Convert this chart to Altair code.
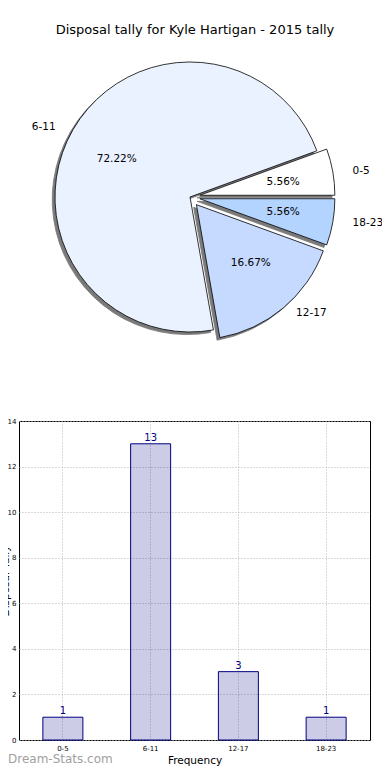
import altair as alt
import pandas as pd

# ---------------- data ----------------
categories = ["0-5", "6-11", "12-17", "18-23"]
counts = [1, 13, 3, 1]
y_ticks = [0, 2, 4, 6, 8, 10, 12, 14]
title_text = ["Disposal tally for Kyle Hartigan - 2015 tally"]
x_title = "Frequency"
y_title = "Disposal Tally"
watermark_text = ["Dream-Stats.com"]

# ---------------- styles / layout ----------------
pie_colors = ["#ffffff", "#ebf2ff", "#c6d9ff", "#b3d4ff"]
explode_px = [10, 0, 10, 10]
FONT = "DejaVu Sans"
NAVY = "#000080"
W, H = 351, 319          # bar plot area
CX, CY = 171, -224       # pie centre relative to the bar plot's top-left
R = 135                  # arc radius
RX, RY = 141, 128        # label placement ellipse
SHX, SHY = -2.8, 2.6     # shadow offset

pie_df = pd.DataFrame({"cat": categories, "count": counts,
                       "idx": list(range(len(categories))), "ex": explode_px})
bar_df = pd.DataFrame({"cat": categories, "count": counts})

pie_base = (
    alt.Chart(pie_df)
    .transform_joinaggregate(total="sum(count)")
    .transform_window(cum="sum(count)", sort=[alt.SortField("idx")], frame=[None, 0])
    .transform_calculate(
        a1="PI/2 - 2*PI*datum.cum/datum.total",
        a2="PI/2 - 2*PI*(datum.cum - datum.count)/datum.total",
    )
    .transform_calculate(am="(datum.a1 + datum.a2)/2")
    .transform_calculate(
        cx=f"{CX} + datum.ex*sin(datum.am)",
        cy=f"({CY}) - datum.ex*cos(datum.am)",
    )
    .transform_calculate(
        sx=f"datum.cx + ({SHX})",
        sy=f"datum.cy + ({SHY})",
        lx=f"datum.cx + 1.1*{RX}*sin(datum.am)",
        ly=f"datum.cy - 1.1*{RY}*cos(datum.am)",
        px=f"datum.cx + 0.6*{RX}*sin(datum.am)",
        py=f"datum.cy - 0.6*{RY}*cos(datum.am)",
        pct="format(100*datum.count/datum.total, '.2f') + '%'",
        rightside="sin(datum.am) > 0 ? 1 : 0",
    )
)

shadow = pie_base.mark_arc(radius=R, fill="#7a7a7a", stroke="#7a7a7a", strokeWidth=0.8).encode(
    theta=alt.Theta("a1:Q", scale=None),
    theta2="a2:Q",
    x=alt.X("sx:Q", scale=None),
    y=alt.Y("sy:Q", scale=None),
)
slices = pie_base.mark_arc(radius=R, stroke="black", strokeWidth=0.8).encode(
    theta=alt.Theta("a1:Q", scale=None),
    theta2="a2:Q",
    x=alt.X("cx:Q", scale=None),
    y=alt.Y("cy:Q", scale=None),
    color=alt.Color("cat:N", scale=alt.Scale(domain=categories, range=pie_colors), legend=None),
)
pct_text = pie_base.mark_text(font=FONT, fontSize=10.5, color="black", align="center", baseline="middle").encode(
    x=alt.X("px:Q", scale=None), y=alt.Y("py:Q", scale=None), text="pct:N")
lab_right = pie_base.transform_filter("datum.rightside == 1").mark_text(
    font=FONT, fontSize=10.5, color="black", align="left", baseline="middle").encode(
    x=alt.X("lx:Q", scale=None), y=alt.Y("ly:Q", scale=None), text="cat:N")
lab_left = pie_base.transform_filter("datum.rightside == 0").mark_text(
    font=FONT, fontSize=10.5, color="black", align="right", baseline="middle").encode(
    x=alt.X("lx:Q", scale=None), y=alt.Y("ly:Q", scale=None), text="cat:N")

grid_kw = dict(grid=True, gridDash=[1, 2], gridColor="#b4b4b4", gridWidth=1,
               ticks=False, domain=False, labelFont=FONT, labelFontSize=7, labelColor="black",
               titleFont=FONT, titleFontWeight="normal", titleColor="black")

bars = alt.Chart(bar_df).mark_bar(size=40, fill=NAVY, fillOpacity=0.2, stroke=NAVY, strokeWidth=1).encode(
    x=alt.X("cat:N", sort=categories, scale=alt.Scale(paddingInner=0, paddingOuter=0),
            axis=alt.Axis(title=x_title, labelAngle=0, labelPadding=4, bandPosition=0.5,
                          titleFontSize=10.5, titlePadding=4, **grid_kw)),
    y=alt.Y("count:Q", scale=alt.Scale(domain=[0, 14], nice=False),
            axis=alt.Axis(values=y_ticks, title=y_title, labelPadding=3, titleFontSize=10.5,
                          titleAngle=270, titleX=-9, titleY=H / 2, titleBaseline="bottom",
                          titleAlign="center", **grid_kw)),
)
values = bars.mark_text(font=FONT, fontSize=10, color=NAVY, baseline="alphabetic", dy=-3).encode(
    text="count:Q")
bar_layer = alt.layer(bars, values)

title = alt.Chart(pd.DataFrame({"t": title_text})).mark_text(
    font=FONT, fontSize=13, color="black", align="center", baseline="alphabetic").encode(
    x=alt.value(176), y=alt.value(-387), text="t:N")

wm = alt.Chart(pd.DataFrame({"t": watermark_text})).mark_text(
    font=FONT, fontSize=12, color="#a0a0a0", align="left", baseline="alphabetic").encode(
    x=alt.value(-11), y=alt.value(342), text="t:N")

chart = alt.layer(shadow, slices, pct_text, lab_right, lab_left, bar_layer, title, wm).resolve_scale(
    x="independent", y="independent"
).properties(
    width=W, height=H,
    autosize=alt.AutoSizeParams(type="none"),
    padding={"left": 11, "top": 413, "right": 12, "bottom": 28},
    background="white",
).configure_view(stroke="black", strokeWidth=1)

chart.save("out.html", embed_options={"renderer": "svg", "actions": False})
